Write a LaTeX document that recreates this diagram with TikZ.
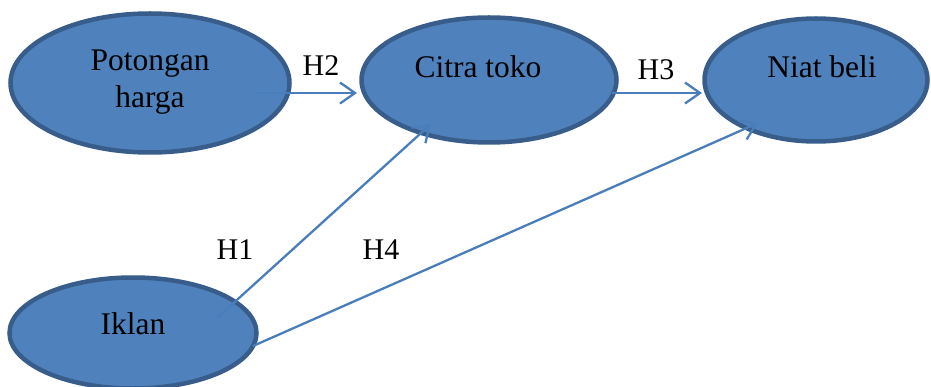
\documentclass[tikz,border=0pt]{standalone}
\usepackage{fontspec}
\setmainfont{Liberation Serif}
\usetikzlibrary{shapes.geometric,arrows.meta}
\definecolor{efill}{HTML}{4F81BD}
\definecolor{eline}{HTML}{385D8A}
\definecolor{aline}{HTML}{4A7EBB}
\tikzset{
  oval/.style={ellipse, draw=eline, fill=efill, line width=4.5pt, inner sep=0pt},
  txt/.style={font=\fontsize{31.5}{37}\selectfont, align=center, inner sep=0pt},
  hlab/.style={font=\fontsize{30}{36}\selectfont, inner sep=0pt},
  arr/.style={draw=aline, line width=2.3pt, -{Straight Barb[length=15pt,width=21pt,line width=2.3pt]}}
}
\begin{document}
\begin{tikzpicture}[x=1pt,y=-1pt]
\useasboundingbox (0,0) rectangle (931,387);
\node[oval, minimum width=279pt, minimum height=139pt] (pot) at (150,83) {};
\node[oval, minimum width=255pt, minimum height=125pt] (cit) at (489,80) {};
\node[oval, minimum width=223pt, minimum height=123pt] (nia) at (816,80) {};
\node[oval, minimum width=247pt, minimum height=111pt] (ikl) at (133,333) {};
\node[txt] (tpot) at (150,82) {Potongan\\harga};
\node[txt] (tcit) at (478,67) {Citra toko};
\node[txt] (tnia) at (822,67) {Niat beli};
\node[txt] (tikl) at (133,324) {Iklan};
\coordinate (s2) at (256,93);
\coordinate (e2) at (357,93);
\coordinate (s3) at (612,93);
\coordinate (e3) at (702,93);
\coordinate (s1) at (217,318);
\coordinate (e1) at (431,124);
\coordinate (s4) at (253,346);
\coordinate (e4) at (758,123);
\draw[arr] (s2) -- (e2);
\draw[arr] (s3) -- (e3);
\draw[arr] (s1) -- (e1);
\draw[arr] (s4) -- (e4);
\node[hlab] (h2) at (321,66) {H2};
\node[hlab] (h3) at (656,70) {H3};
\node[hlab] (h1) at (235,250) {H1};
\node[hlab] (h4) at (381,250) {H4};
\end{tikzpicture}
\end{document}
